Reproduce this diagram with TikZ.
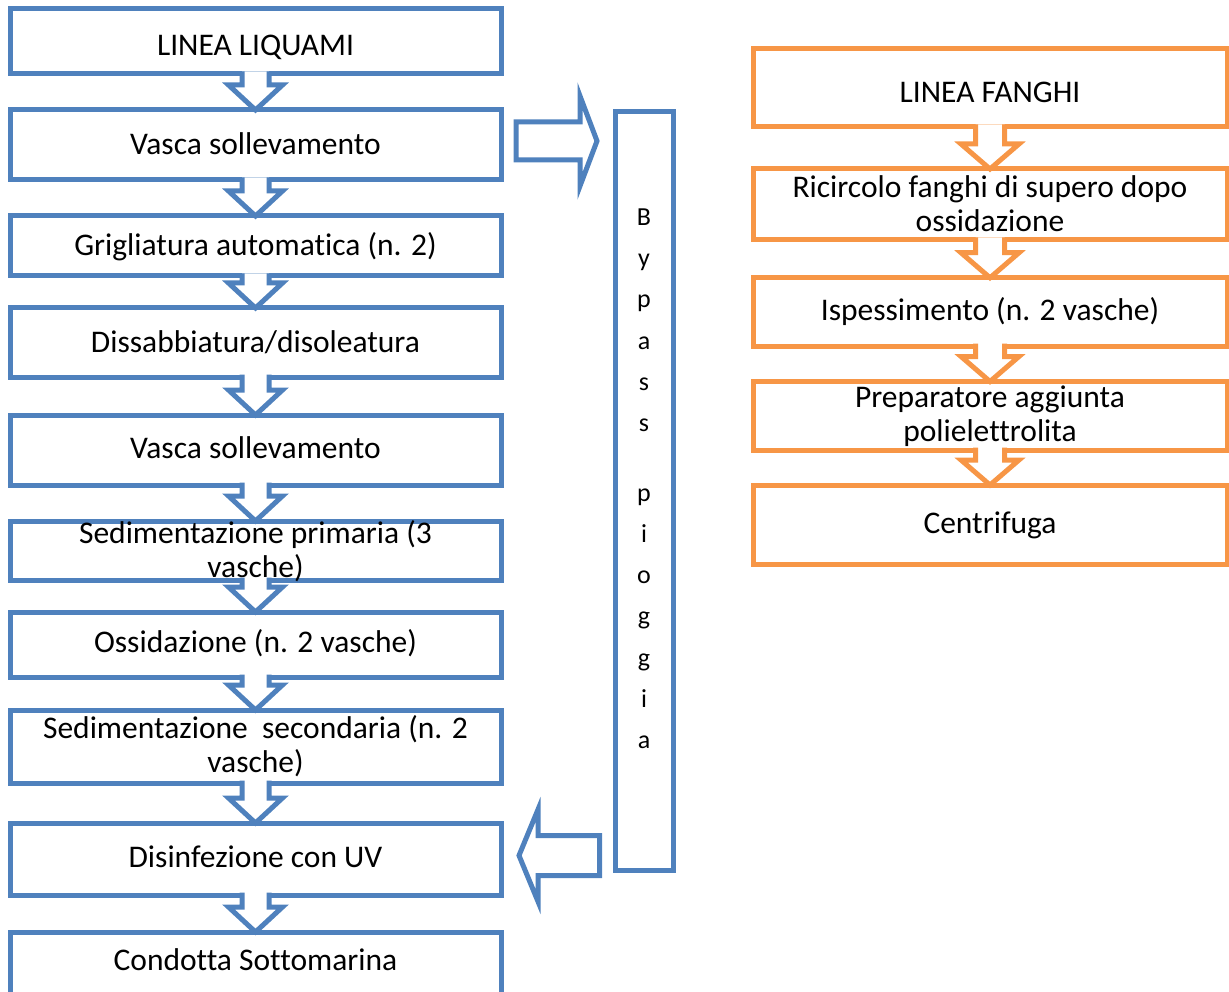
\documentclass[tikz,border=0pt]{standalone}
\usepackage{fontspec}
\setmainfont{Carlito}[Ligatures=NoCommon]
\usetikzlibrary{calc}

\definecolor{flowblue}{HTML}{4F81BD}
\definecolor{floworange}{HTML}{F79646}

% invisible rule that fixes the top of the first text line
\newcommand\topstrut{\rule{0pt}{30pt}}

\tikzset{
  box/.style={rectangle, draw, line width=5pt, fill=white, inner sep=0pt, outer sep=0pt},
  liq/.style={box, draw=flowblue, minimum width=491pt},
  fan/.style={box, draw=floworange, minimum width=474pt},
  lbl/.style={font=\fontsize{31.5}{34}\selectfont, align=center, anchor=north, inner sep=0pt},
  bypasstext/.style={font=\fontsize{26}{41.3}\selectfont, align=center, anchor=north, inner sep=0pt},
  blockarrow/.style={line width=5pt, line join=miter},
}

% hollow down arrow between two boxes:
% #1 upper box, #2 lower box, #3 half shaft, #4 half head, #5 head length, #6 colour
\newcommand\flowdown[6]{%
  \path[fill=white] let \p1=(#1.south), \p2=(#2.north) in
    (\x1-#3pt,\y1+2.5pt) -- (\x1-#3pt,\y2+#5pt) -- (\x1-#4pt,\y2+#5pt) -- (\x2,\y2)
    -- (\x1+#4pt,\y2+#5pt) -- (\x1+#3pt,\y2+#5pt) -- (\x1+#3pt,\y1+2.5pt) -- cycle;
  \draw[blockarrow,draw=#6] let \p1=(#1.south), \p2=(#2.north) in
    (\x1-#3pt,\y1+2.5pt) -- (\x1-#3pt,\y2+#5pt) -- (\x1-#4pt,\y2+#5pt) -- (\x2,\y2)
    -- (\x1+#4pt,\y2+#5pt) -- (\x1+#3pt,\y2+#5pt) -- (\x1+#3pt,\y1+2.5pt);
}

\begin{document}
\begin{tikzpicture}[x=1pt,y=1pt]
\useasboundingbox (0,0) rectangle (1229,-992);
\clip (0,0) rectangle (1229,-992);

% sewage line
\node[liq, minimum height=65pt] (b1)  at (255.5,-41.5) {};
\node[liq, minimum height=70pt] (b2)  at (255.5,-145) {};
\node[liq, minimum height=60pt] (b3)  at (255.5,-246) {};
\node[liq, minimum height=69pt] (b4)  at (255.5,-342.5) {};
\node[liq, minimum height=70pt] (b5)  at (255.5,-450) {};
\node[liq, minimum height=59pt] (b6)  at (255.5,-550.5) {};
\node[liq, minimum height=65pt] (b7)  at (255.5,-644.5) {};
\node[liq, minimum height=73pt] (b8)  at (255.5,-746.5) {};
\node[liq, minimum height=72pt] (b9)  at (255.5,-859) {};
\node[liq, minimum height=78pt] (b10) at (255.5,-971) {};

\node[lbl] (t1)  at (255.5,-25)  {\topstrut LINEA LIQUAMI};
\node[lbl] (t2)  at (255.5,-124) {\topstrut Vasca sollevamento};
\node[lbl] (t3)  at (255.5,-225) {\topstrut Grigliatura automatica (n. 2)};
\node[lbl] (t4)  at (255.5,-322) {\topstrut Dissabbiatura/disoleatura};
\node[lbl] (t5)  at (255.5,-428) {\topstrut Vasca sollevamento};
\node[lbl] (t6)  at (255.5,-513) {\topstrut Sedimentazione primaria (3\\vasche)};
\node[lbl] (t7)  at (255.5,-622) {\topstrut Ossidazione (n. 2 vasche)};
\node[lbl] (t8)  at (255.5,-708) {\topstrut Sedimentazione\ \ secondaria (n. 2\\vasche)};
\node[lbl] (t9)  at (255.5,-837) {\topstrut Disinfezione con UV};
\node[lbl] (t10) at (255.5,-940) {\topstrut Condotta Sottomarina};

% sludge line
\node[fan, minimum height=78pt]   (o1) at (990,-88) {};
\node[fan, minimum height=71pt]   (o2) at (990,-204.5) {};
\node[fan, minimum height=68.5pt] (o3) at (990,-312) {};
\node[fan, minimum height=68.5pt] (o4) at (990,-415.75) {};
\node[fan, minimum height=79pt]   (o5) at (990,-524.5) {};

\node[lbl] (u1) at (990,-72)  {\topstrut LINEA FANGHI};
\node[lbl] (u2) at (990,-167) {\topstrut Ricircolo fanghi di supero dopo\\ossidazione};
\node[lbl] (u3) at (990,-290) {\topstrut Ispessimento (n. 2 vasche)};
\node[lbl] (u4) at (990,-377) {\topstrut Preparatore aggiunta\\polielettrolita};
\node[lbl] (u5) at (990,-503) {\topstrut Centrifuga};

% storm bypass column
\node[liq, minimum width=58pt, minimum height=758pt] (byp) at (644,-491) {};
\node[bypasstext] (bt) at (644,-195)
  {\topstrut B\\y\\p\\a\\s\\s\\[28pt]p\\i\\o\\g\\g\\i\\a};

% flow arrows along the sewage line
\flowdown{b1}{b2}{13.5}{27}{25}{flowblue}
\flowdown{b2}{b3}{13.5}{27}{25}{flowblue}
\flowdown{b3}{b4}{13.5}{27}{25}{flowblue}
\flowdown{b4}{b5}{13.5}{27}{25}{flowblue}
\flowdown{b5}{b6}{13.5}{27}{25}{flowblue}
\flowdown{b6}{b7}{13.5}{27}{25}{flowblue}
\flowdown{b7}{b8}{13.5}{27}{25}{flowblue}
\flowdown{b8}{b9}{13.5}{27}{25}{flowblue}
\flowdown{b9}{b10}{13.5}{27}{25}{flowblue}

% flow arrows along the sludge line
\flowdown{o1}{o2}{14.5}{29}{25}{floworange}
\flowdown{o2}{o3}{14.5}{29}{25}{floworange}
\flowdown{o3}{o4}{14.5}{29}{25}{floworange}
\flowdown{o4}{o5}{14.5}{29}{25}{floworange}

% into the bypass
\draw[blockarrow, draw=flowblue, fill=white] let \p1=(b2.east), \p2=(byp.west) in
  (\x1+15pt,\y1+23pt) -- (\x2-35pt,\y1+23pt) -- (\x2-35pt,\y1+49pt)
  -- (\x2-18pt,\y1+4pt) -- (\x2-35pt,\y1-41pt) -- (\x2-35pt,\y1-15pt)
  -- (\x1+15pt,\y1-15pt) -- cycle;

% back from the bypass
\draw[blockarrow, draw=flowblue, fill=white] let \p1=(b9.east), \p2=(byp.west) in
  (\x2-15.5pt,\y1+23.5pt) -- (\x1+37pt,\y1+23.5pt) -- (\x1+37pt,\y1+49.5pt)
  -- (\x1+18pt,\y1+3.5pt) -- (\x1+37pt,\y1-42.5pt) -- (\x1+37pt,\y1-16.5pt)
  -- (\x2-15.5pt,\y1-16.5pt) -- cycle;
\end{tikzpicture}
\end{document}
